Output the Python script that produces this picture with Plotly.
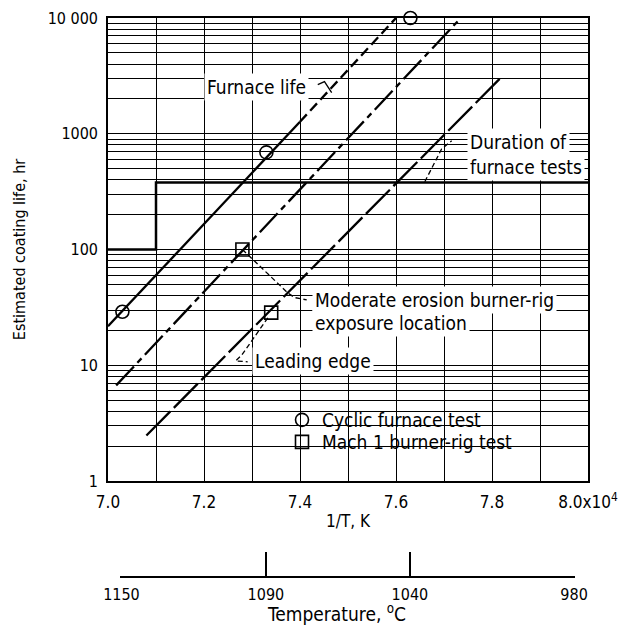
import math
import plotly.graph_objects as go

# ---------------- data ----------------
furnace_x = [7.03, 7.33, 7.63]
furnace_y = [29, 690, 10000]
burner_x = [7.28, 7.34]
burner_y = [100, 28.5]

life_solid_x = [7.0, 7.40]
life_solid_y = [21.7, 1270]
life_dash_x = [7.40, 7.60]
life_dash_y = [1270, 10000]

mid_x = [7.017, 7.735]
mid_y = [6.7, 10000]

lead_x = [7.08, 7.82]
lead_y = [2.47, 3100]

duration_x = [7.0, 7.1, 7.1, 8.0]
duration_y = [100, 100, 380, 380]

moderate_leader_x = [7.28, 7.375, 7.389, 7.414]
moderate_leader_y = [100, 42, 38.4, 36.7]
leading_leader_x = [7.333, 7.279, 7.266, 7.291]
leading_leader_y = [25.7, 12.3, 10.9, 10.7]
duration_leader_x = [7.66, 7.695, 7.716]
duration_leader_y = [385, 738, 870]
life_leader_x = [7.437, 7.451, 7.466]
life_leader_y = [2655, 2820, 2262]

x_tick_vals = [7.0, 7.2, 7.4, 7.6, 7.8, 8.0]
x_tick_text = ["7.0", "7.2", "7.4", "7.6", "7.8", "8.0x10<sup>4</sup>"]
x_minor_vals = [7.1, 7.3, 7.5, 7.7, 7.9]
y_tick_vals = [1, 10, 100, 1000, 10000]
y_tick_text = ["1", "10", "100", "1000", "10 000"]
y_minor_vals = [m * d for d in [1, 10, 100, 1000] for m in range(2, 10)]

temp_labels = ["1150", "1090", "1040", "980"]
temp_pos = [7.028, 7.329, 7.629, 7.971]

FONT = "DejaVu Sans Condensed, Liberation Sans Narrow, sans-serif"
BLACK = "black"
H_PAPER = 570.0  # plotting height in px (628 - 18 - 40)


def py(px):
    """screen y (px from top) -> paper fraction"""
    return 1 - (px - 18) / H_PAPER


fig = go.Figure()

fig.add_trace(go.Scatter(x=duration_x, y=duration_y, mode="lines",
                         line=dict(color=BLACK, width=2.5), showlegend=False, hoverinfo="skip"))
fig.add_trace(go.Scatter(x=life_solid_x, y=life_solid_y, mode="lines",
                         line=dict(color=BLACK, width=2.3), showlegend=False, hoverinfo="skip"))
fig.add_trace(go.Scatter(x=life_dash_x, y=life_dash_y, mode="lines",
                         line=dict(color=BLACK, width=2.3, dash="10px,5px"), showlegend=False, hoverinfo="skip"))
fig.add_trace(go.Scatter(x=mid_x, y=mid_y, mode="lines",
                         line=dict(color=BLACK, width=2.3, dash="26px,5px,6px,5px"), showlegend=False, hoverinfo="skip"))
fig.add_trace(go.Scatter(x=lead_x, y=lead_y, mode="lines",
                         line=dict(color=BLACK, width=2.3, dash="34px,5px"), showlegend=False, hoverinfo="skip"))

for lx, ly, dsh in [(moderate_leader_x, moderate_leader_y, "5px,3px"),
                    (leading_leader_x, leading_leader_y, "5px,3px"),
                    (duration_leader_x, duration_leader_y, "5px,3px"),
                    (life_leader_x, life_leader_y, "solid")]:
    fig.add_trace(go.Scatter(x=lx, y=ly, mode="lines",
                             line=dict(color=BLACK, width=1.3, dash=dsh),
                             showlegend=False, hoverinfo="skip"))

fig.add_trace(go.Scatter(x=furnace_x, y=furnace_y, mode="markers", name="Cyclic furnace test",
                         marker=dict(symbol="circle-open", size=13, color=BLACK, line=dict(width=1.6)),
                         cliponaxis=False, legend="legend"))
fig.add_trace(go.Scatter(x=burner_x, y=burner_y, mode="markers", name="Mach 1 burner-rig test",
                         marker=dict(symbol="square-open", size=13, color=BLACK, line=dict(width=1.6)),
                         cliponaxis=False, legend="legend2"))

# temperature secondary axis carrier
fig.add_trace(go.Scatter(x=temp_pos, y=[0.5] * len(temp_pos), xaxis="x2", yaxis="y2", mode="markers",
                         marker=dict(opacity=0), showlegend=False, hoverinfo="skip"))

ann_font = dict(family=FONT, size=19, color=BLACK)
annotations = [
    dict(x=7.31, y=2548, text="Furnace life", xanchor="center"),
    dict(x=7.747, y=855, text="Duration of", xanchor="left"),
    dict(x=7.747, y=519, text="furnace tests", xanchor="left"),
    dict(x=7.424, y=36.7, text="Moderate erosion burner-rig", xanchor="left"),
    dict(x=7.424, y=23.3, text="exposure location", xanchor="left"),
    dict(x=7.301, y=10.9, text="Leading edge", xanchor="left"),
]
ann_list = []
for a in annotations:
    ann_list.append(dict(x=a["x"], y=math.log10(a["y"]), xref="x", yref="y",
                         text=a["text"], xanchor=a["xanchor"], yanchor="middle", showarrow=False,
                         bgcolor="white", borderpad=2, font=ann_font))
ann_list.append(dict(x=7.476, y=py(613), xref="x", yref="paper", text="Temperature, <sup>o</sup>C",
                     showarrow=False, yanchor="middle", font=dict(family=FONT, size=19, color=BLACK)))

lo, hi = min(temp_pos) - 0.002, max(temp_pos) + 0.002

legend_common = dict(xanchor="left", yanchor="middle", bgcolor="rgba(0,0,0,0)",
                     font=dict(family=FONT, size=19, color=BLACK), itemwidth=30,
                     borderwidth=0)

fig.update_layout(
    width=621, height=628,
    margin=dict(l=108, r=33, t=18, b=40, autoexpand=False),
    paper_bgcolor="white", plot_bgcolor="white",
    font=dict(family=FONT, color=BLACK, size=17),
    annotations=ann_list,
    shapes=[dict(type="rect", xref="paper", yref="paper",
                 x0=(273 - 108) / 480, x1=(535 - 108) / 480, y0=py(452), y1=py(403),
                 fillcolor="white", line=dict(width=0), layer="between")],
    legend=dict(x=(282 - 108) / 480, y=py(420), **legend_common),
    legend2=dict(x=(282 - 108) / 480, y=py(442), **legend_common),
    xaxis=dict(range=[7.0, 8.0], domain=[0, 1], anchor="y", automargin=False,
               tickvals=x_tick_vals, ticktext=x_tick_text, ticks="",
               showgrid=True, gridcolor=BLACK, gridwidth=1.3,
               minor=dict(tickvals=x_minor_vals, showgrid=True, gridcolor=BLACK, gridwidth=1.3, ticks=""),
               showline=True, linecolor=BLACK, linewidth=1.6, mirror=True, zeroline=False,
               tickfont=dict(family=FONT, size=17), ticklabelstandoff=5,
               title=dict(text="1/T, K", font=dict(family=FONT, size=17), standoff=4)),
    yaxis=dict(type="log", range=[0, 4], domain=[py(481), 1], anchor="x", automargin=False,
               tickvals=y_tick_vals, ticktext=y_tick_text, ticks="",
               showgrid=True, gridcolor=BLACK, gridwidth=1.3,
               minor=dict(tickvals=y_minor_vals, showgrid=True, gridcolor=BLACK, gridwidth=1.1, ticks=""),
               showline=True, linecolor=BLACK, linewidth=1.6, mirror=True, zeroline=False,
               tickfont=dict(family=FONT, size=16), ticklabelstandoff=5,
               title=dict(text="Estimated coating life, hr", font=dict(family=FONT, size=16), standoff=18)),
    xaxis2=dict(range=[lo, hi], domain=[lo - 7.0, hi - 7.0], anchor="y2", automargin=False,
                tickvals=temp_pos, ticktext=temp_labels, ticks="inside", ticklen=24,
                tickwidth=1.5, tickcolor=BLACK, showgrid=False, zeroline=False,
                showline=True, linecolor=BLACK, linewidth=1.5,
                tickfont=dict(family=FONT, size=16), ticklabelstandoff=3),
    yaxis2=dict(domain=[py(576), py(576) + 0.05], range=[0, 1], visible=False, anchor="x2"),
)

fig.write_html("out.html", config={"displayModeBar": False},
               post_script="document.body.style.margin='0';document.body.style.overflow='hidden';")
